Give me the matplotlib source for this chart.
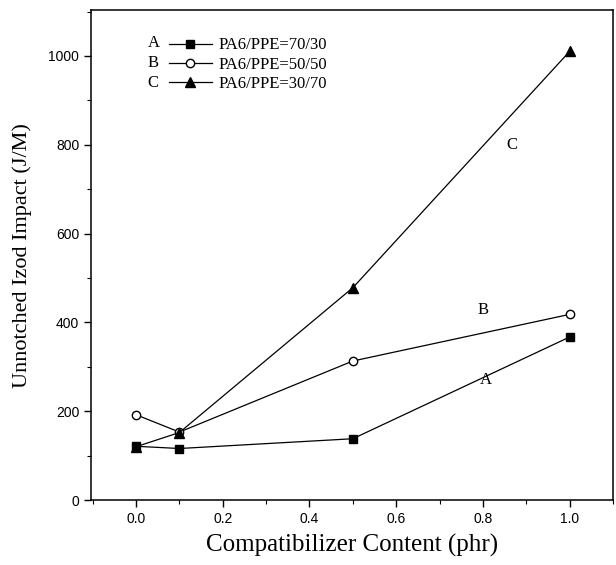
import matplotlib
matplotlib.use("Agg")
import matplotlib.pyplot as plt
from matplotlib.ticker import MultipleLocator, FormatStrFormatter

content = [0.0, 0.1, 0.5, 1.0]
impact_a = [121, 116, 138, 367]
impact_b = [192, 153, 313, 418]
impact_c = [120, 152, 478, 1010]
legend_labels = ["PA6/PPE=70/30", "PA6/PPE=50/50", "PA6/PPE=30/70"]
letters = ["A", "B", "C"]
# curve tags placed next to each line
tag_x = [0.806, 0.80, 0.866]
tag_y = [270, 428, 800]

serif = "Liberation Serif"
sans = "Liberation Sans"

fig = plt.figure(figsize=(6.16, 5.65), dpi=100)
ax = fig.add_axes([0.1477, 0.115, 0.8473, 0.867])

la, = ax.plot(content, impact_a, "k-", marker="s", ms=6, lw=0.9)
lb, = ax.plot(content, impact_b, "k-", marker="o", ms=6, mfc="white", lw=0.9)
lc, = ax.plot(content, impact_c, "k-", marker="^", ms=7, lw=0.9)

ax.set_xlim(-0.104, 1.1)
ax.set_ylim(0, 1103)
ax.xaxis.set_major_locator(MultipleLocator(0.2))
ax.xaxis.set_minor_locator(MultipleLocator(0.1))
ax.yaxis.set_major_locator(MultipleLocator(200))
ax.yaxis.set_minor_locator(MultipleLocator(100))
ax.xaxis.set_major_formatter(FormatStrFormatter("%.1f"))
ax.tick_params(which="both", direction="out", top=False, right=False)
ax.tick_params(which="major", length=5, width=1)
ax.tick_params(which="minor", length=3, width=0.8)
for lab in ax.get_xticklabels() + ax.get_yticklabels():
    lab.set_fontfamily(sans)
    lab.set_fontsize(10)
for s in ax.spines.values():
    s.set_linewidth(1.1)

ax.set_xlabel("Compatibilizer Content (phr)", fontfamily=serif, fontsize=18, labelpad=6)
ax.set_ylabel("Unnotched Izod Impact (J/M)", fontfamily=serif, fontsize=16, labelpad=12)

leg = ax.legend([la, lb, lc], legend_labels, loc="upper left",
                bbox_to_anchor=(0.12, 0.975), frameon=False, handlelength=2.6,
                handletextpad=0.4, labelspacing=0.2, prop={"family": serif, "size": 12})
for i, t in enumerate(letters):
    ax.text(0.108, 0.932 - i * 0.04, t, transform=ax.transAxes,
            fontfamily=serif, fontsize=12, va="center")

for t, x, y in zip(letters, tag_x, tag_y):
    ax.text(x, y, t, fontfamily=serif, fontsize=12, ha="center", va="center")

fig.savefig("out.png")
